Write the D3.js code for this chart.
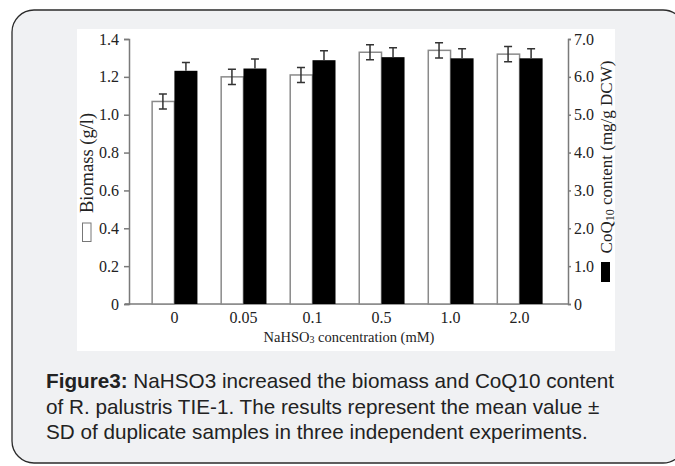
<!DOCTYPE html>
<html>
<head>
<meta charset="utf-8">
<script src="https://cdn.jsdelivr.net/npm/d3@7"></script>
<style>
  body { margin: 0; background: #fff; }
  svg { display: block; }
</style>
</head>
<body>
<div id="chart"></div>
<script>
// data
const concentrations = ["0", "0.05", "0.1", "0.5", "1.0", "2.0"]
const biomass = [1.07, 1.20, 1.21, 1.33, 1.34, 1.32]
const biomassSD = [0.04, 0.04, 0.04, 0.04, 0.04, 0.04]
const coq10 = [6.16, 6.22, 6.44, 6.52, 6.49, 6.49]
const coq10SD = [0.22, 0.25, 0.25, 0.25, 0.25, 0.25]
const leftTicks = [0, 0.2, 0.4, 0.6, 0.8, 1.0, 1.2, 1.4]
const rightTicks = [0, 1, 2, 3, 4, 5, 6, 7]

const W = 675, H = 466
const svg = d3.select("#chart").append("svg")
    .attr("width", W).attr("height", H)

// card + white figure panel
svg.append("rect")
    .attr("x", 12).attr("y", 10).attr("width", 673).attr("height", 453)
    .attr("rx", 22).attr("ry", 22)
    .attr("fill", "#f0f1f3").attr("stroke", "#2b2b2b").attr("stroke-width", 1.3)
svg.append("rect")
    .attr("x", 77).attr("y", 29).attr("width", 538).attr("height", 322)
    .attr("fill", "#fff")

let margin = { left: 129, right: 568, top: 39, bottom: 304 }

let x = d3.scaleBand()
    .domain(concentrations)
    .range([140, 554])
    .paddingInner(0.333)
    .paddingOuter(0.165)
let xSub = d3.scaleBand()
    .domain(["biomass", "coq10"])
    .range([0, x.bandwidth()])

let yLeft = d3.scaleLinear().domain([0, 1.4]).range([margin.bottom, margin.top])
let yRight = d3.scaleLinear().domain([0, 7]).range([margin.bottom, margin.top])

const axisColor = "#7a7a7a"
const serif = "'Liberation Serif', 'Times New Roman', serif"

// left axis
let gl = svg.append("g")
    .attr("transform", "translate(" + margin.left + ",0)")
    .call(d3.axisLeft(yLeft).tickValues(leftTicks).tickSize(5).tickPadding(5)
        .tickFormat(d => d === 0 ? "0" : d3.format(".1f")(d)))
gl.select(".domain").attr("stroke", axisColor).attr("stroke-width", 1.5)
gl.selectAll(".tick line").attr("stroke", axisColor).attr("stroke-width", 1.5)
gl.selectAll(".tick text").attr("font-family", serif).attr("font-size", 16).attr("fill", "#222")

// right axis
let gr = svg.append("g")
    .attr("transform", "translate(" + margin.right + ",0)")
    .call(d3.axisRight(yRight).tickValues(rightTicks).tickSize(3).tickPadding(3)
        .tickFormat(d => d === 0 ? "0" : d3.format(".1f")(d)))
gr.select(".domain").attr("stroke", axisColor).attr("stroke-width", 1.5)
gr.selectAll(".tick line").attr("stroke", axisColor).attr("stroke-width", 1.5)
gr.selectAll(".tick text").attr("font-family", serif).attr("font-size", 16).attr("fill", "#222")

// x axis (no ticks)
let gx = svg.append("g")
    .attr("transform", "translate(0," + margin.bottom + ")")
    .call(d3.axisBottom(x).tickSize(0).tickPadding(8))
gx.select(".domain").attr("d", "M" + (margin.left - 4) + ",0H" + margin.right)
    .attr("stroke", axisColor).attr("stroke-width", 1.5)
gx.selectAll(".tick text").attr("font-family", serif).attr("font-size", 16).attr("fill", "#222")

// bars
let groups = svg.append("g").selectAll("g")
    .data(concentrations)
    .join("g")
    .attr("transform", d => "translate(" + x(d) + ",0)")

groups.append("rect")
    .attr("x", xSub("biomass") + 0.75)
    .attr("width", xSub.bandwidth() - 0.75)
    .attr("y", (d, i) => yLeft(biomass[i]))
    .attr("height", (d, i) => margin.bottom - yLeft(biomass[i]))
    .attr("fill", "#fff").attr("stroke", "#8a8a8a").attr("stroke-width", 1.5)

groups.append("rect")
    .attr("x", xSub("coq10"))
    .attr("width", xSub.bandwidth())
    .attr("y", (d, i) => yRight(coq10[i]))
    .attr("height", (d, i) => margin.bottom - yRight(coq10[i]))
    .attr("fill", "#000")

// error bars
const cap = 4
const errColor = "#333"
groups.each(function (d, i) {
    let g = d3.select(this)
    let cx = xSub("biomass") + xSub.bandwidth() / 2
    let hi = yLeft(biomass[i] + biomassSD[i]), lo = yLeft(biomass[i] - biomassSD[i])
    g.append("path")
        .attr("d", "M" + cx + "," + hi + "V" + lo +
            "M" + (cx - cap) + "," + hi + "H" + (cx + cap) +
            "M" + (cx - cap) + "," + lo + "H" + (cx + cap))
        .attr("stroke", errColor).attr("stroke-width", 1.5).attr("fill", "none")

    let cx2 = xSub("coq10") + xSub.bandwidth() / 2
    let hi2 = yRight(coq10[i] + coq10SD[i]), top2 = yRight(coq10[i])
    g.append("path")
        .attr("d", "M" + cx2 + "," + hi2 + "V" + top2 +
            "M" + (cx2 - cap) + "," + hi2 + "H" + (cx2 + cap))
        .attr("stroke", errColor).attr("stroke-width", 1.5).attr("fill", "none")
})

// axis titles with legend keys
let leftLabel = svg.append("g").attr("transform", "translate(93,163) rotate(-90)")
leftLabel.append("text")
    .attr("text-anchor", "middle")
    .attr("font-family", serif).attr("font-size", 18.5).attr("fill", "#222")
    .text("Biomass (g/l)")
svg.append("rect")
    .attr("x", 82.5).attr("y", 223).attr("width", 8.5).attr("height", 18.5)
    .attr("fill", "#fff").attr("stroke", "#777").attr("stroke-width", 1)

let rightLabel = svg.append("g").attr("transform", "translate(612,157) rotate(-90)")
let rt = rightLabel.append("text")
    .attr("text-anchor", "middle")
    .attr("font-family", serif).attr("font-size", 17).attr("fill", "#222")
rt.append("tspan").text("CoQ")
rt.append("tspan").attr("font-size", 12).attr("dy", 2).text("10")
rt.append("tspan").attr("dy", -2).text(" content (mg/g DCW)")
svg.append("rect")
    .attr("x", 601).attr("y", 262).attr("width", 9).attr("height", 20)
    .attr("fill", "#000")

let xt = svg.append("text")
    .attr("x", 349).attr("y", 342)
    .attr("text-anchor", "middle")
    .attr("font-family", serif).attr("font-size", 14.5).attr("fill", "#222")
xt.append("tspan").text("NaHSO")
xt.append("tspan").attr("font-size", 10).attr("dy", 1).text("3")
xt.append("tspan").attr("dy", -1).text(" concentration (mM)")

// caption
const caption = [
    [{ t: "Figure3:", b: true }, { t: " NaHSO3 increased the biomass and CoQ10 content" }],
    [{ t: "of R. palustris TIE-1. The results represent the mean value ±" }],
    [{ t: "SD of duplicate samples in three independent experiments." }]
]
svg.append("g").selectAll("text")
    .data(caption)
    .join("text")
    .attr("x", 46)
    .attr("y", (d, i) => 388 + i * 25.5)
    .attr("font-family", "'Liberation Sans', Arial, sans-serif")
    .attr("font-size", 20.7).attr("fill", "#222")
    .selectAll("tspan")
    .data(d => d)
    .join("tspan")
    .attr("font-weight", d => d.b ? "bold" : "normal")
    .text(d => d.t)
</script>
</body>
</html>
